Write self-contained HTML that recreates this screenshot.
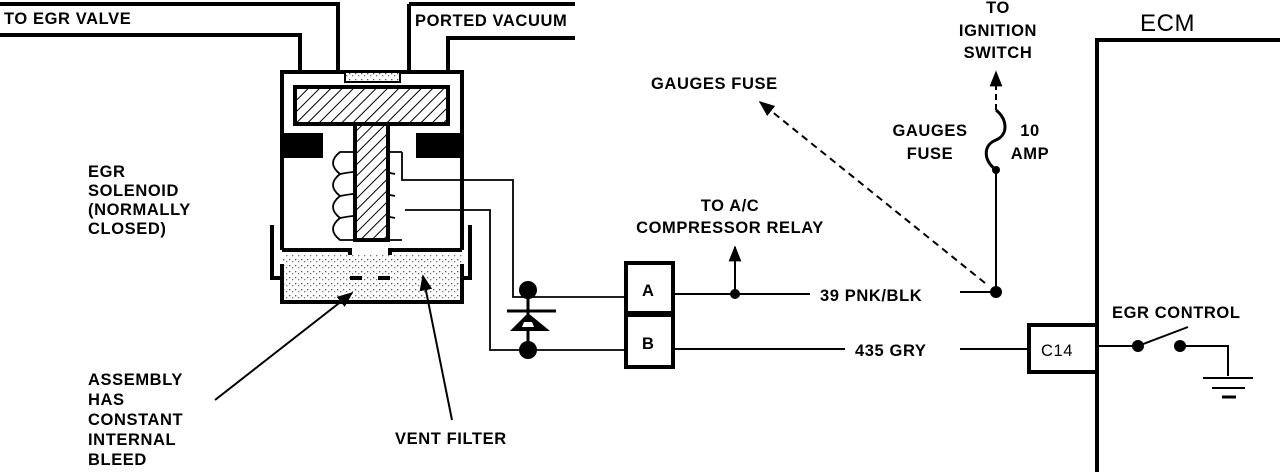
<!DOCTYPE html>
<html><head><meta charset="utf-8"><style>
html,body{margin:0;padding:0;background:#fff;width:1280px;height:472px;overflow:hidden}
svg{display:block}
text{font-family:"Liberation Sans",sans-serif;font-weight:bold;font-size:16.5px;fill:#000;letter-spacing:0.6px}
</style></head><body>
<svg width="1280" height="472" viewBox="0 0 1280 472" xmlns="http://www.w3.org/2000/svg">
<defs>
<pattern id="hatch" width="8" height="8" patternUnits="userSpaceOnUse" patternTransform="rotate(45)">
<rect width="8" height="8" fill="#fff"/><line x1="0" y1="0" x2="0" y2="8" stroke="#000" stroke-width="2"/>
</pattern>
<pattern id="dots" width="6" height="6" patternUnits="userSpaceOnUse">
<rect width="6" height="6" fill="#fff"/><rect x="1" y="1" width="1.3" height="1.3" fill="#555"/><rect x="4" y="3" width="1.3" height="1.3" fill="#777"/>
</pattern>
<marker id="arr" viewBox="0 0 10 10" refX="9" refY="5" markerWidth="8" markerHeight="8" orient="auto"><path d="M0,1 L10,5 L0,9 z" fill="#000"/></marker>
</defs>
<g fill="none" stroke="#000" stroke-width="4">
<polyline points="0,4 338,4 338,72 282,72 282,250"/>
<polyline points="0,35 300,35 300,72"/>
<polyline points="409,4 575,4"/>
<polyline points="409,4 409,72 462,72 462,250"/>
<polyline points="575,38 448,38 448,72"/>
<polyline points="282,250 350,250 350,278"/>
<polyline points="462,250 390,250 390,278"/>
<line x1="338" y1="72" x2="409" y2="72"/>
</g>
<rect x="345" y="72" width="55" height="10" fill="url(#dots)" stroke="#000" stroke-width="2"/>
<rect x="295" y="87" width="153" height="37" fill="url(#hatch)" stroke="#000" stroke-width="4"/>
<rect x="282" y="133" width="41" height="25" fill="#000"/>
<rect x="416" y="133" width="46" height="25" fill="#000"/>
<g fill="none" stroke="#000" stroke-width="1.8">
<path d="M402,152 L340,152 Q326,163 340,174 Q326,185 340,196 Q326,207 340,218 Q326,229 340,240 L402,240"/>
<path d="M340,174 Q370,168 395,174 M340,196 Q370,190 395,196 M340,218 Q370,212 395,218"/>
<polyline points="402,152 402,180 513,180 513,297 625,297"/>
<polyline points="405,210 490,210 490,350 625,350"/>
</g>
<rect x="355" y="124" width="33" height="116" fill="url(#hatch)" stroke="#000" stroke-width="4"/>
<rect x="282" y="255" width="180" height="47" fill="url(#dots)"/>
<g fill="none" stroke="#000" stroke-width="4">
<polyline points="282,264 282,302 462,302 462,264"/>
<polyline points="272,225 272,278 282,278"/>
<polyline points="470,225 470,278 462,278"/>
<line x1="350" y1="278" x2="362" y2="278"/><line x1="378" y1="278" x2="390" y2="278"/>
</g>
<line x1="215" y1="400" x2="352" y2="293" stroke="#000" stroke-width="2" marker-end="url(#arr)"/>
<line x1="452" y1="420" x2="423" y2="276" stroke="#000" stroke-width="2" marker-end="url(#arr)"/>
<circle cx="528" cy="290" r="9" fill="#000"/>
<circle cx="528" cy="350" r="9" fill="#000"/>
<line x1="528" y1="290" x2="528" y2="350" stroke="#000" stroke-width="3"/>
<line x1="507" y1="311" x2="556" y2="311" stroke="#000" stroke-width="3"/>
<path d="M528,313 L510,331 L550,331 Z" fill="#000"/>
<path d="M524,322 L532,322 L534,327 L522,327 Z" fill="#fff"/>
<rect x="626" y="263" width="47" height="50" fill="#fff" stroke="#000" stroke-width="4"/>
<rect x="626" y="315" width="47" height="52" fill="#fff" stroke="#000" stroke-width="4"/>
<text x="642" y="296">A</text>
<text x="642" y="349">B</text>
<g stroke="#000" stroke-width="2" fill="none">
<line x1="673" y1="294" x2="810" y2="294"/>
<line x1="960" y1="292" x2="996" y2="292"/>
<line x1="673" y1="349" x2="845" y2="349"/>
<line x1="960" y1="349" x2="1029" y2="349"/>
<line x1="735" y1="294" x2="735" y2="247" marker-end="url(#arr)"/>
<line x1="996" y1="292" x2="996" y2="170"/>
<path d="M996,170 C983,160 983,145 996,140 C1008,135 1008,120 996,110" stroke-width="3"/>
<line x1="996" y1="110" x2="996" y2="72" stroke-dasharray="6,4" marker-end="url(#arr)"/>
<line x1="985" y1="283" x2="760" y2="102" stroke-dasharray="7,5" marker-end="url(#arr)"/>
<line x1="1097" y1="346" x2="1138" y2="346"/>
<line x1="1138" y1="346" x2="1188" y2="327"/>
<polyline points="1180,346 1228,346 1228,376"/>
<line x1="1203" y1="378" x2="1253" y2="378"/>
<line x1="1212" y1="388" x2="1245" y2="388"/>
<line x1="1222" y1="397" x2="1236" y2="397" stroke-width="3"/>
</g>
<circle cx="735" cy="294" r="5" fill="#000"/>
<circle cx="996" cy="292" r="6" fill="#000"/>
<circle cx="996" cy="170" r="4" fill="#000"/>
<circle cx="1138" cy="346" r="6" fill="#000"/>
<circle cx="1180" cy="346" r="6" fill="#000"/>
<rect x="1029" y="325" width="68" height="47" fill="#fff" stroke="#000" stroke-width="4"/>
<text x="1041" y="356" style="font-weight:normal">C14</text>
<polyline points="1097,472 1097,40 1280,40" fill="none" stroke="#000" stroke-width="4"/>
<text x="4" y="24">TO EGR VALVE</text>
<text x="415" y="26">PORTED VACUUM</text>
<text x="88" y="177">EGR</text>
<text x="88" y="196">SOLENOID</text>
<text x="88" y="215">(NORMALLY</text>
<text x="88" y="234">CLOSED)</text>
<text x="88" y="385">ASSEMBLY</text>
<text x="88" y="405">HAS</text>
<text x="88" y="425">CONSTANT</text>
<text x="88" y="445">INTERNAL</text>
<text x="88" y="465">BLEED</text>
<text x="395" y="444">VENT FILTER</text>
<text x="651" y="89">GAUGES FUSE</text>
<text x="730" y="211" text-anchor="middle">TO A/C</text>
<text x="730" y="233" text-anchor="middle">COMPRESSOR RELAY</text>
<text x="820" y="301">39 PNK/BLK</text>
<text x="855" y="356">435 GRY</text>
<text x="998" y="13" text-anchor="middle">TO</text>
<text x="998" y="36" text-anchor="middle">IGNITION</text>
<text x="998" y="58" text-anchor="middle">SWITCH</text>
<text x="930" y="136" text-anchor="middle">GAUGES</text>
<text x="930" y="159" text-anchor="middle">FUSE</text>
<text x="1030" y="136" text-anchor="middle">10</text>
<text x="1030" y="159" text-anchor="middle">AMP</text>
<text x="1140" y="31" style="font-size:24px;font-weight:normal">ECM</text>
<text x="1112" y="318">EGR CONTROL</text>
</svg>
</body></html>
